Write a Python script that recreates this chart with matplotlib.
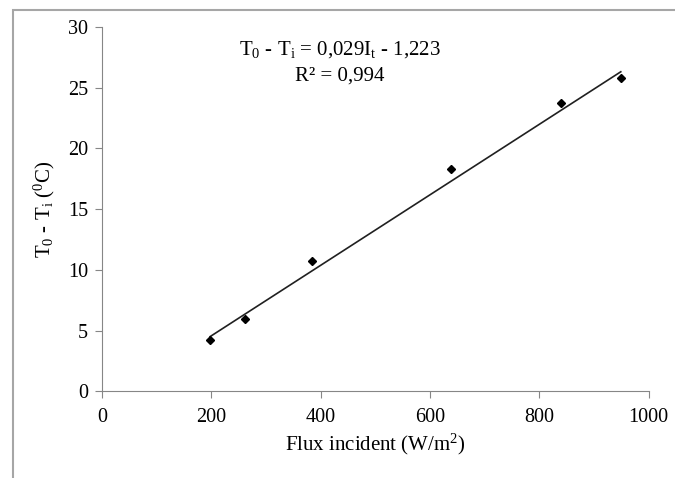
import matplotlib.pyplot as plt
from matplotlib.patches import Rectangle

plt.rcParams["font.family"] = ["Liberation Serif", "DejaVu Serif"]
plt.rcParams["mathtext.fontset"] = "custom"
plt.rcParams["mathtext.rm"] = "Liberation Serif"
plt.rcParams["mathtext.it"] = "Liberation Serif:italic"

# incident flux (W/m2) vs temperature rise (degC)
flux = [198, 262, 385, 638, 839, 949]
delta_t = [4.2, 5.95, 10.7, 18.3, 23.75, 25.75]

# linear fit reported on the chart
slope = 0.029
intercept = -1.223
r2 = 0.994

xticks = [0, 200, 400, 600, 800, 1000]
yticks = [0, 5, 10, 15, 20, 25, 30]

fig = plt.figure(figsize=(6.75, 4.78), dpi=100)
ax = fig.add_axes([0.151, 0.181, 0.81, 0.763])

# frame around the whole figure
fig.patches.append(Rectangle((13 / 675, -0.05), 1.1, 1 - 10 / 478 + 0.05,
                             transform=fig.transFigure, fill=False,
                             edgecolor="#a6a6a6", linewidth=1.5))

x_fit = [min(flux), max(flux)]
y_fit = [slope * x + intercept for x in x_fit]
ax.plot(x_fit, y_fit, "-", color="#202020", linewidth=1.2)
ax.plot(flux, delta_t, "D", color="black", markersize=4.2)

ax.set_xlim(0, 1000)
ax.set_ylim(0, 30)
ax.set_xticks(xticks)
ax.set_yticks(yticks)
for s in ["top", "right"]:
    ax.spines[s].set_visible(False)
for s in ["left", "bottom"]:
    ax.spines[s].set_color("#868686")
ax.tick_params(axis="both", colors="#868686", labelcolor="black",
               labelsize=14.5, length=5, direction="out")
ax.tick_params(axis="x", pad=7)
ax.tick_params(axis="y", pad=5)

ax.set_xlabel(r"Flux incident (W/m$^2$)", fontsize=15, labelpad=3)
ax.set_ylabel(r"T$_0$ - T$_\mathregular{i}$ ($^0$C)", fontsize=15, labelpad=8)

eq = (r"T$_0$ - T$_\mathregular{i}$ = " + f"{slope:.3f}".replace(".", ",")
      + r"I$_\mathregular{t}$ - " + f"{-intercept:.3f}".replace(".", ","))
fig.text(340 / 675, 1 - 50 / 478, eq, ha="center", va="center", fontsize=15)
fig.text(340 / 675, 1 - 76 / 478, f"R² = {r2:.3f}".replace(".", ","),
         ha="center", va="center", fontsize=15)

fig.savefig("out.png", dpi=100)
